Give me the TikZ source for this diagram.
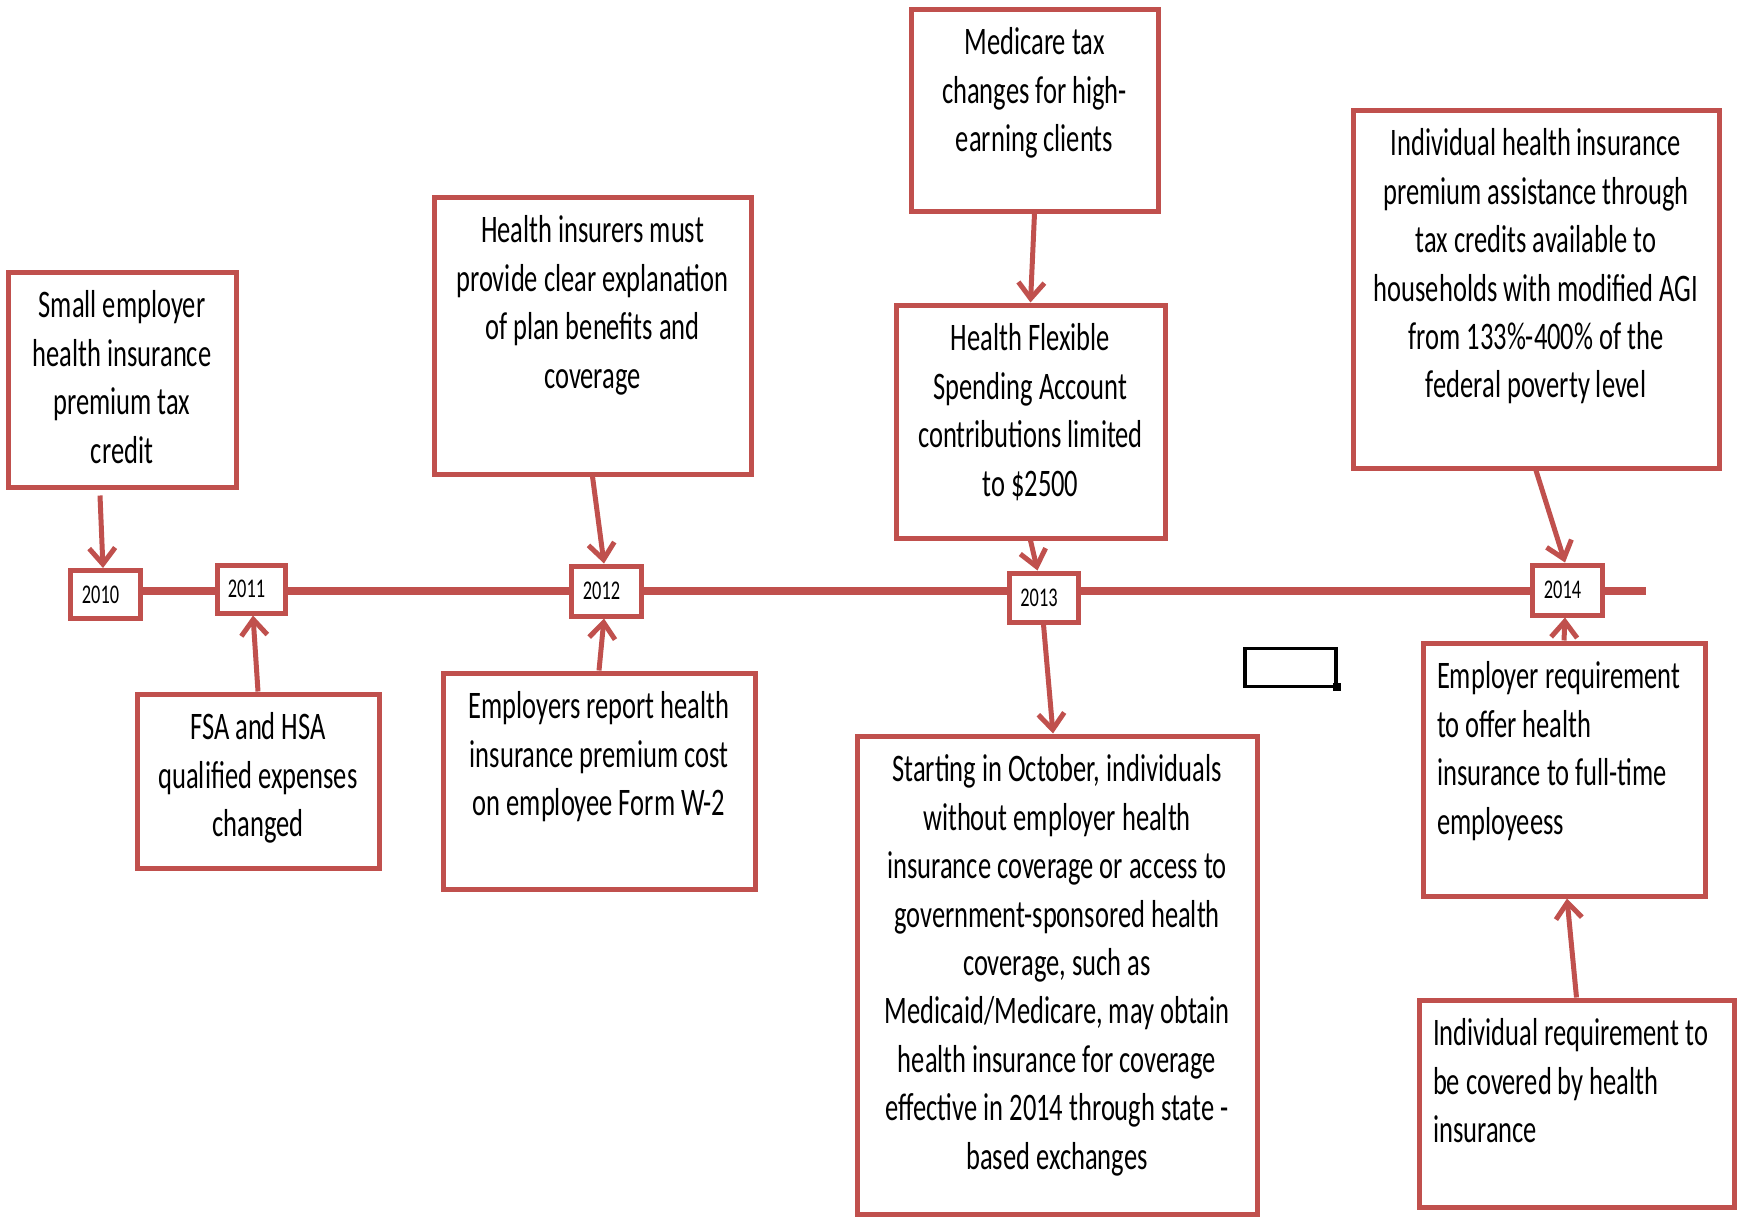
\documentclass[tikz,border=0pt]{standalone}
\usepackage{fontspec}
\setmainfont{Carlito}[FakeStretch=0.68]
\usetikzlibrary{arrows.meta}
\definecolor{acc}{HTML}{C0504D}
\pgfdeclarelayer{bg}
\pgfsetlayers{bg,main}
\newcommand\ctext[3]{\parbox[c][#2][t]{#1}{\vspace*{12pt}\centering\strut #3\par}}
\newcommand\ltext[3]{\parbox[c][#2][t]{#1}{\vspace*{12pt}\raggedright\leftskip=14pt\strut #3\par}}
\newcommand\yrtext[1]{\hspace*{-9pt}\raisebox{-1.5pt}{#1}}
\tikzset{
  box/.style={draw=acc, line width=5pt, fill=white, inner sep=0pt, text=black,
    font=\fontsize{39pt}{48.4pt}\selectfont},
  yr/.style={draw=acc, line width=5pt, fill=white, inner sep=0pt, text=black,
    font=\fontsize{27pt}{30pt}\selectfont, minimum width=70pt, minimum height=48pt},
  arr/.style={draw=acc, line width=5pt, -{Straight Barb[length=16pt,width=26pt]}},
  tline/.style={draw=acc, line width=8pt}
}
\begin{document}
\begin{tikzpicture}[x=1pt,y=-1pt]
\useasboundingbox (0,0) rectangle (1738,1218);

% year boxes
\node[yr] (y2010) at (105,594.5) {\yrtext{2010}};
\node[yr, minimum width=68pt] (y2011) at (251,589) {\yrtext{2011}};
\node[yr, minimum height=50pt] (y2012) at (606,591) {\yrtext{2012}};
\node[yr, minimum width=69pt, minimum height=49pt] (y2013) at (1043.5,597.5) {\yrtext{2013}};
\node[yr, minimum height=50pt] (y2014) at (1567,590) {\yrtext{2014}};
\coordinate (tlend) at (1646,591);

\begin{pgfonlayer}{bg}
\fill[white] (0,0) rectangle (1738,1218);
\draw[tline] (y2010.center |- tlend) -- (tlend);
\end{pgfonlayer}

% text boxes
\node[box] (b1) at (122,379.5) {\ctext{228pt}{215pt}{Small employer\\ health insurance\\ premium tax\\ credit}};
\node[box] (b2) at (592.5,335.5) {\ctext{317pt}{277pt}{Health insurers must\\ provide clear explanation\\ of plan benefits and\\ coverage}};
\node[box] (b3) at (1034.5,110) {\ctext{247pt}{202pt}{Medicare tax\\ changes for high-\\ earning clients}};
\node[box] (b4) at (1030.5,421.5) {\ctext{269pt}{233pt}{Health Flexible\\ Spending Account\\ contributions limited\\ to \$2500}};
\node[box] (b5) at (1536,289) {\ctext{366pt}{358pt}{Individual health insurance\\ premium assistance through\\ tax credits available to\\ households with modified AGI\\ from 133\%-400\% of the\\ federal poverty level}};
\node[box] (b6) at (258,781) {\ctext{242pt}{174pt}{FSA and HSA\\ qualified expenses\\ changed}};
\node[box] (b7) at (599,781) {\ctext{312pt}{216pt}{Employers report health\\ insurance premium cost\\ on employee Form W-2}};
\node[box] (b8) at (1057,975) {\ctext{400pt}{478pt}{Starting in October, individuals\\ without employer health\\ insurance coverage or access to\\ government-sponsored health\\ coverage, such as\\ Medicaid/Medicare, may obtain\\ health insurance for coverage\\ effective in 2014 through state -\\ based exchanges}};
\node[box] (b9) at (1564,769.5) {\ltext{282pt}{253pt}{Employer requirement\\ to offer health\\ insurance to full-time\\ employeess}};
\node[box] (b10) at (1576.5,1103.5) {\ltext{315pt}{207pt}{Individual requirement to\\ be covered by health\\ insurance}};

% selection rectangle
\node[draw=black, line width=3.5pt, minimum width=91pt, minimum height=38pt, inner sep=0pt] (sel) at (1290.5,667.5) {};
\fill[black] ([xshift=-5pt,yshift=5pt]sel.south east) rectangle ([xshift=3pt,yshift=-3pt]sel.south east);

% connectors
\draw[arr] ([xshift=-22pt,yshift=-6pt]b1.south) -- ([xshift=-2pt]y2010.north);
\draw[arr] (b6.north) -- ([xshift=2pt]y2011.south);
\draw[arr] (b2.south) -- ([xshift=-2pt]y2012.north);
\draw[arr] (b7.north) -- ([xshift=-2pt]y2012.south);
\draw[arr] (b3.south) -- (b4.north);
\draw[arr] (b4.south) -- ([xshift=-6pt]y2013.north);
\draw[arr] (y2013.south) -- ([xshift=-4pt]b8.north);
\draw[arr] (b5.south) -- ([xshift=-2pt]y2014.north);
\draw[arr] (b9.north) -- ([xshift=-2pt]y2014.south);
\draw[arr] (b10.north) -- ([xshift=3pt]b9.south);
\end{tikzpicture}
\end{document}
